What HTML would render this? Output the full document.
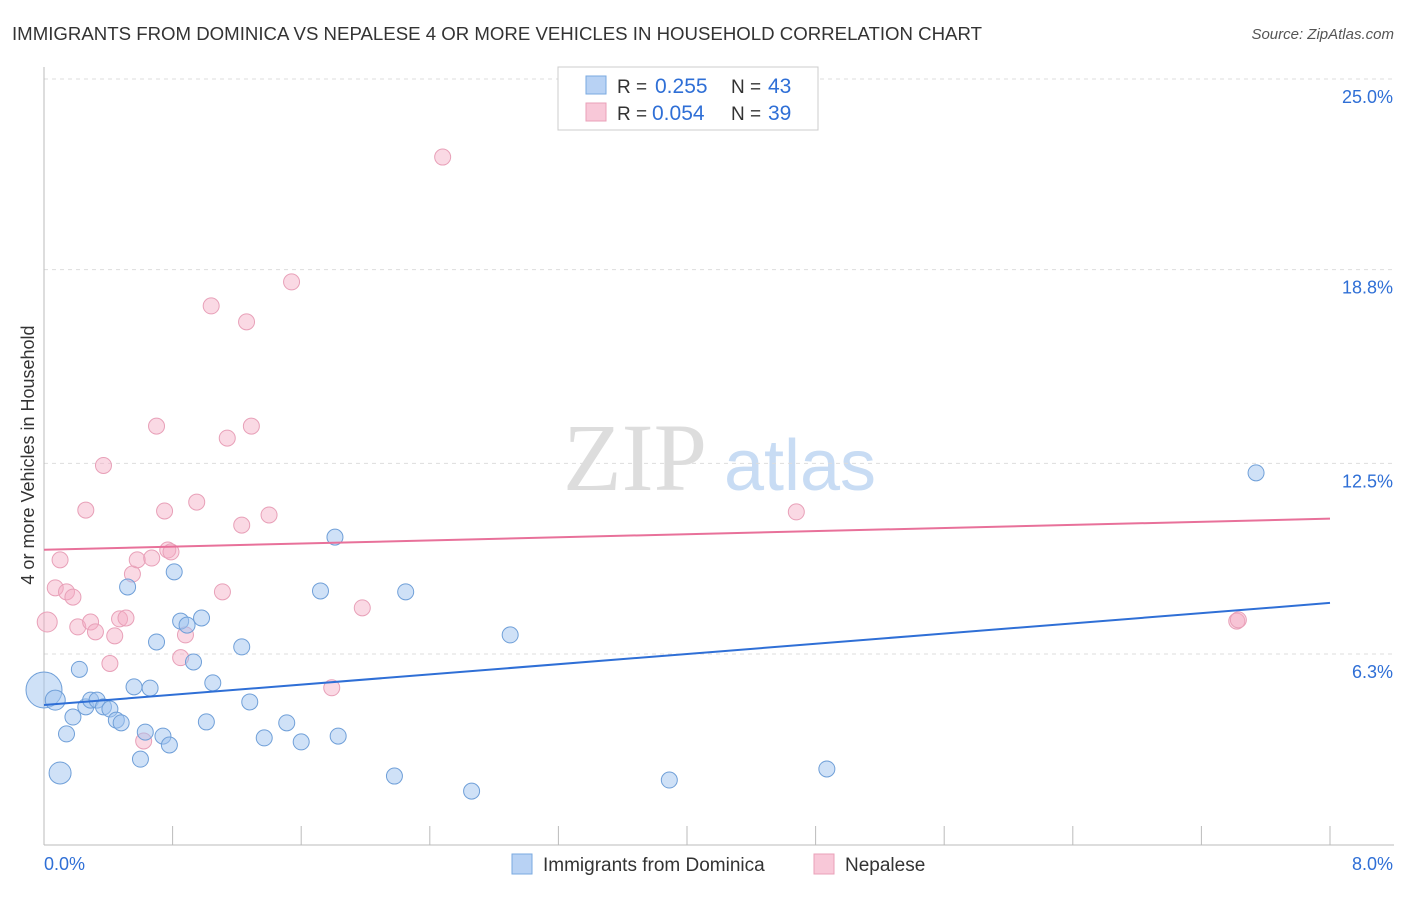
<!DOCTYPE html>
<html><head><meta charset="utf-8"><style>
body{margin:0;background:#fff;font-family:"Liberation Sans",sans-serif;}
svg text{font-family:"Liberation Sans",sans-serif;}
</style></head><body>
<svg id="chart" width="1406" height="892" viewBox="0 0 1406 892">
<text x="12" y="40" font-size="18" fill="#333" textLength="970" lengthAdjust="spacingAndGlyphs">IMMIGRANTS FROM DOMINICA VS NEPALESE 4 OR MORE VEHICLES IN HOUSEHOLD CORRELATION CHART</text>
<text x="1394" y="39" font-size="15" fill="#555" font-style="italic" text-anchor="end">Source: ZipAtlas.com</text>
<g>
<text x="635" y="490" font-size="96" fill="#ddd" text-anchor="middle" font-family="Liberation Serif,serif" style="font-family:'Liberation Serif',serif">ZIP</text>
<text x="800" y="490" font-size="72" fill="#c8dcf4" text-anchor="middle">atlas</text>
</g>
<g id="grid"></g>
<g id="axes"></g>
<g id="points"></g>
<g id="trends"></g>
<text x="34" y="455" font-size="18" fill="#333" text-anchor="middle" transform="rotate(-90 34 455)">4 or more Vehicles in Household</text>
<g>
<rect x="558" y="67" width="260" height="63" fill="#fff" stroke="#ccc"/>
<rect x="586" y="76" width="20" height="18" fill="#b8d2f4" stroke="#7aaae0"/>
<rect x="586" y="103" width="20" height="18" fill="#f8c8d8" stroke="#eaa0b8"/>
<g>
<text x="617" y="93" font-size="19" fill="#333">R =</text>
<text x="655" y="93" font-size="21" fill="#2f6fd6">0.255</text>
<text x="731" y="93" font-size="19" fill="#333">N =</text>
<text x="768" y="93" font-size="21" fill="#2f6fd6">43</text>
</g>
<g>
<text x="617" y="120" font-size="19" fill="#333">R =</text>
<text x="652" y="120" font-size="21" fill="#2f6fd6">0.054</text>
<text x="731" y="120" font-size="19" fill="#333">N =</text>
<text x="768" y="120" font-size="21" fill="#2f6fd6">39</text>
</g>
</g>
<g>
<rect x="512" y="854" width="20" height="20" fill="#b8d2f4" stroke="#7aaae0"/>
<text x="543" y="871" font-size="19" fill="#333">Immigrants from Dominica</text>
<rect x="814" y="854" width="20" height="20" fill="#f8c8d8" stroke="#eaa0b8"/>
<text x="845" y="871" font-size="19" fill="#333">Nepalese</text>
</g>
</svg>
<script>
const yTicks=[6.3,12.5,18.8,25.0];
const yTickLabels=["6.3%","12.5%","18.8%","25.0%"];
const xMinLabel="0.0%", xMaxLabel="8.0%";
const blueX=[0,0.07,0.10,0.14,0.18,0.22,0.26,0.29,0.33,0.37,0.41,0.45,0.48,0.52,0.56,0.60,0.63,0.66,0.70,0.74,0.78,0.81,0.85,0.89,0.93,0.98,1.01,1.05,1.23,1.28,1.37,1.51,1.60,1.72,1.81,1.83,2.18,2.25,2.66,2.90,3.89,4.87,7.54];
const blueY=[5.13,4.80,2.43,3.70,4.25,5.80,4.58,4.80,4.80,4.58,4.51,4.15,4.06,8.48,5.23,2.88,3.76,5.19,6.69,3.63,3.34,8.97,7.37,7.24,6.04,7.47,4.09,5.36,6.53,4.74,3.57,4.06,3.44,8.35,10.10,3.63,2.33,8.32,1.84,6.92,2.20,2.56,12.19];
const blueSize=[18,10,11,8,8,8,8,8,8,8,8,8,8,8,8,8,8,8,8,8,8,8,8,8,8,8,8,8,8,8,8,8,8,8,8,8,8,8,8,8,8,8,8];
const pinkX=[0.02,0.07,0.10,0.14,0.18,0.21,0.26,0.29,0.32,0.37,0.41,0.44,0.47,0.51,0.55,0.58,0.62,0.67,0.70,0.75,0.77,0.79,0.85,0.88,0.95,1.04,1.11,1.14,1.23,1.26,1.29,1.40,1.54,1.79,1.98,2.48,4.68,7.42,7.43];
const pinkY=[7.34,8.45,9.36,8.32,8.15,7.18,10.98,7.34,7.02,12.43,5.99,6.89,7.44,7.47,8.90,9.36,3.47,9.42,13.71,10.95,9.68,9.62,6.18,6.92,11.24,17.62,8.32,13.32,10.49,17.10,13.71,10.82,18.40,5.20,7.80,22.46,10.92,7.37,7.41];
const blueTrend=[4.64,7.96];
const pinkTrend=[9.69,10.70];
const X0=44,X1=1330;
function sx(v){return X0+(X1-X0)*v/8;}
function sy(v){return 847.7-v*30.75;}
const NS="http://www.w3.org/2000/svg";
function mk(tag,attrs,parent){const e=document.createElementNS(NS,tag);for(const k in attrs)e.setAttribute(k,attrs[k]);document.getElementById(parent).appendChild(e);return e;}
yTicks.forEach((t,i)=>{
  const l=mk('line',{x1:44,x2:1394,y1:sy(t),y2:sy(t),stroke:'#ddd','stroke-dasharray':'4,4'},'grid');
  
  
  const tx=mk('text',{x:1393,y:sy(t)+24,'font-size':18,fill:'#2f6fd6','text-anchor':'end'},'grid');
  tx.textContent=yTickLabels[i];
  
  
});
mk('line',{x1:44,x2:1394,y1:79,y2:79,stroke:'#ddd','stroke-dasharray':'4,4'},'grid');
mk('line',{x1:44,x2:44,y1:67,y2:845,stroke:'#bbb'},'axes');
mk('line',{x1:44,x2:1394,y1:845,y2:845,stroke:'#bbb'},'axes');
for(let i=0;i<=10;i++){const x=sx(i*0.8);const t=mk('line',{x1:x,x2:x,y1:826,y2:845,stroke:'#bbb'},'axes');

}
let xl=mk('text',{x:44,y:870,'font-size':18,fill:'#2f6fd6'},'axes');xl.textContent=xMinLabel;


let xr=mk('text',{x:1393,y:870,'font-size':18,fill:'#2f6fd6','text-anchor':'end'},'axes');xr.textContent=xMaxLabel;


pinkX.forEach((v,i)=>{const c=mk('circle',{cx:sx(v),cy:sy(pinkY[i]),r:i==0?10:8,fill:'rgba(245,170,195,0.45)',stroke:'#e8a0b8','stroke-width':1},'points');

});
blueX.forEach((v,i)=>{const c=mk('circle',{cx:sx(v),cy:sy(blueY[i]),r:blueSize[i],fill:'rgba(160,195,240,0.5)',stroke:'#6f9fd8','stroke-width':1},'points');

});
const bt=mk('line',{x1:sx(0),y1:sy(blueTrend[0]),x2:sx(8),y2:sy(blueTrend[1]),stroke:'#2f6fd6','stroke-width':2},'trends');


const pt=mk('line',{x1:sx(0),y1:sy(pinkTrend[0]),x2:sx(8),y2:sy(pinkTrend[1]),stroke:'#e8719a','stroke-width':2},'trends');


</script>
</body></html>
